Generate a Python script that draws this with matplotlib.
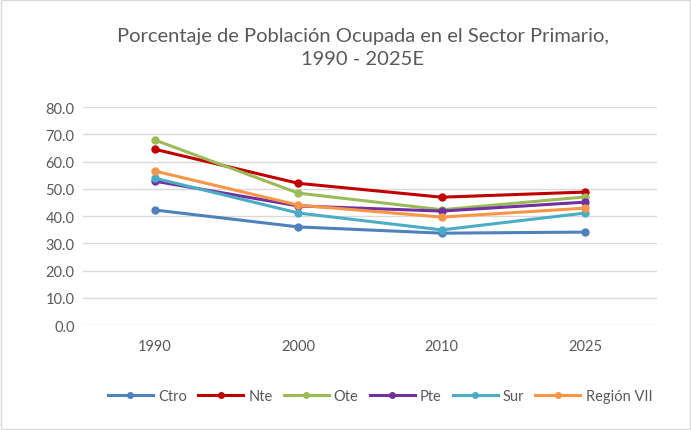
import matplotlib.pyplot as plt
from matplotlib.patches import Rectangle

# Data
years = ["1990", "2000", "2010", "2025"]
ctro = [42.2, 36.0, 33.7, 34.1]
nte = [64.5, 52.0, 46.9, 48.8]
ote = [67.9, 48.4, 42.3, 47.0]
pte = [52.8, 43.7, 41.8, 45.1]
sur = [53.9, 41.1, 34.9, 41.1]
region = [56.5, 44.0, 39.6, 42.9]

series = [
    ("Ctro", ctro, "#4F81BD"),
    ("Nte", nte, "#C00000"),
    ("Ote", ote, "#9BBB59"),
    ("Pte", pte, "#7030A0"),
    ("Sur", sur, "#4BACC6"),
    ("Región VII", region, "#F79646"),
]

plt.rcParams['font.family'] = ['Lato', 'DejaVu Sans']

fig = plt.figure(figsize=(6.91, 4.31), dpi=100)
ax = fig.add_axes([0.120, 0.2436, 0.831, 0.5058])

x = range(len(years))
for name, vals, color in series:
    ax.plot(x, vals, color=color, lw=2.2, marker='o', markersize=5, label=name)

ax.set_xlim(-0.5, len(years) - 0.5)
ax.set_ylim(0, 80)
ax.set_yticks(range(0, 81, 10))
ax.set_yticklabels([f"{v:.1f}" for v in range(0, 81, 10)])
ax.set_xticks(list(x))
ax.set_xticklabels(years)
ax.grid(axis='y', color='#D9D9D9', lw=1)
ax.set_axisbelow(True)
for s in ax.spines.values():
    s.set_visible(False)
ax.tick_params(length=0, labelsize=10.5, colors='#595959', pad=10)
ax.tick_params(axis='y', pad=6)

fig.text(0.525, 0.888, "Porcentaje de Población Ocupada en el Sector Primario,\n1990 - 2025E",
         ha='center', va='center', fontsize=14.5, color='#595959', linespacing=1.4)

fig.legend(loc='center', bbox_to_anchor=(0.55, 0.079), ncol=6, frameon=False,
           fontsize=10.5, handlelength=3.1, handletextpad=0.35, columnspacing=0.75,
           markerscale=0.8, labelcolor='#595959')

fig.patches.append(Rectangle((0.002, 0.003), 0.996, 0.994, transform=fig.transFigure,
                             fill=False, edgecolor='#D9D9D9', lw=1))

plt.savefig("out.png")
